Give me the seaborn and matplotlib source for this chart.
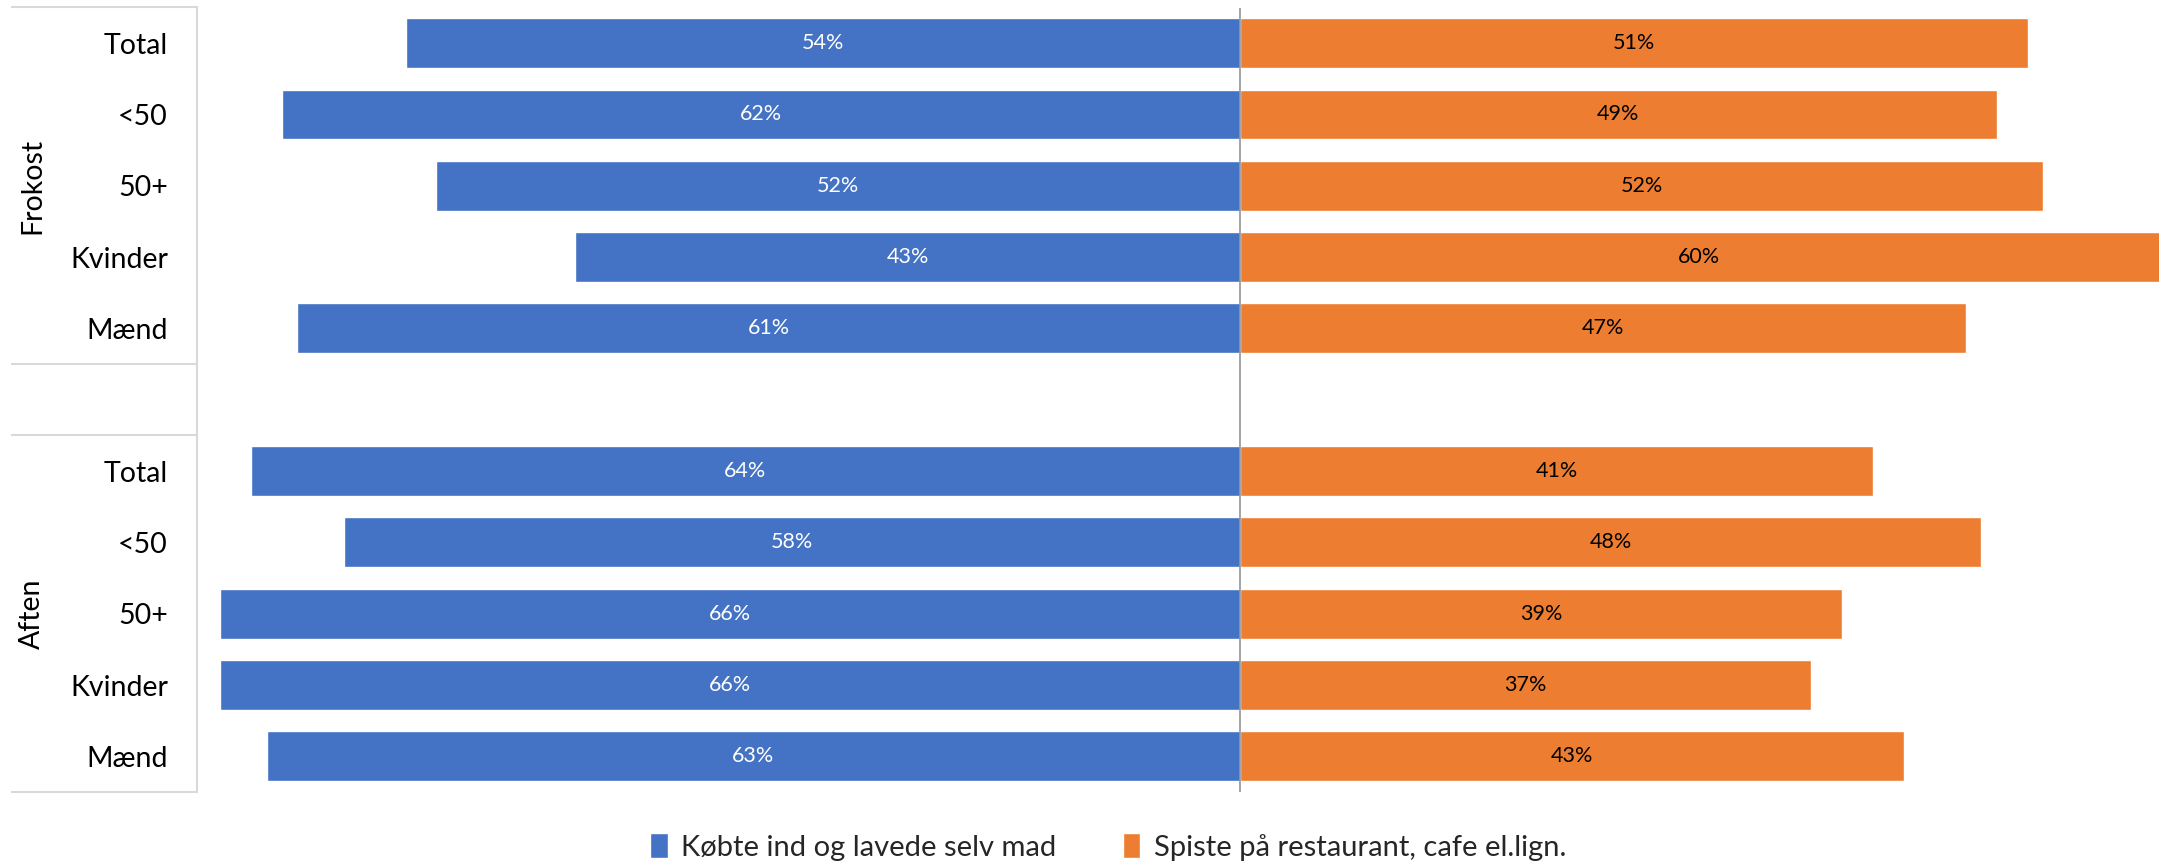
import numpy as np
import pandas as pd
import matplotlib
matplotlib.use("Agg")
import matplotlib.pyplot as plt
import matplotlib.transforms as mtransforms
import seaborn as sns

# Survey shares (%) per meal and respondent group
groups = ["Frokost", "Aften"]
segments = ["Total", "<50", "50+", "Kvinder", "Mænd"]
selv_mad = {
    "Frokost": [54, 62, 52, 43, 61],
    "Aften": [64, 58, 66, 66, 63],
}
restaurant = {
    "Frokost": [51, 49, 52, 60, 47],
    "Aften": [41, 48, 39, 37, 43],
}
series_names = ["Købte ind og lavede selv mad", "Spiste på restaurant, cafe el.lign."]
colors = ["#4472C4", "#ED7D31"]

sns.set_theme(style="white")
plt.rcParams["font.family"] = ["Lato", "DejaVu Sans"]

rows = []
for g in groups:
    for seg, a, b in zip(segments, selv_mad[g], restaurant[g]):
        key = f"{g}|{seg}"
        rows.append({"key": key, "serie": series_names[0], "value": -a, "label": a})
        rows.append({"key": key, "serie": series_names[1], "value": b, "label": b})
df = pd.DataFrame(rows)

# category order with an empty slot between the two meals
order = [f"Frokost|{s}" for s in segments] + ["__gap__"] + [f"Aften|{s}" for s in segments]

W, H = 2159, 865
fig = plt.figure(figsize=(W / 100, H / 100), dpi=100)
ax_left, ax_right = 197 / W, 1.0
ax_top, ax_bot = 1 - 7.5 / H, 1 - 792 / H
ax = fig.add_axes([ax_left, ax_bot, ax_right - ax_left, ax_top - ax_bot])

sns.barplot(
    data=df, x="value", y="key", hue="serie", order=order,
    hue_order=series_names, palette=colors, dodge=False, width=0.7,
    orient="h", ax=ax, saturation=1, legend=True,
)

ax.set_xlim(-67.5, 59.5)
ax.set_ylim(10.5, -0.5)
ax.set_xlabel("")
ax.set_ylabel("")
ax.set_xticks([])

tick_labels = [k.split("|")[1] if "|" in k else "" for k in order]
ax.set_yticks(range(len(order)))
ax.set_yticklabels(tick_labels, fontsize=20.5, color="black")
ax.tick_params(axis="y", length=0, pad=21)

for side in ["top", "right", "bottom"]:
    ax.spines[side].set_visible(False)
ax.spines["left"].set_color("#d9d9d9")
ax.spines["left"].set_linewidth(1.5)

# zero line
ax.axvline(0, color="#8c8c8c", lw=1.1, zorder=3)

# value labels
for cont, txtcol in zip(ax.containers, ["white", "black"]):
    labels = [f"{abs(v):.0f}%" for v in cont.datavalues]
    ax.bar_label(cont, labels=labels, label_type="center", color=txtcol, fontsize=15.5)

# category table lines and meal labels to the left of the axis
trans = mtransforms.blended_transform_factory(ax.transAxes, ax.transData)
x0 = (11 - 197) / (W - 197)
for yline in [-0.5, 4.5, 5.5, 10.5]:
    ax.plot([x0, 0], [yline, yline], transform=trans, color="#d9d9d9", lw=1.5,
            clip_on=False, solid_capstyle="butt")

gx = (32 - 197) / (W - 197)
for g, yc in zip(groups, [2, 8]):
    ax.text(gx, yc, g, transform=trans, rotation=90, ha="center", va="center",
            fontsize=20.5, color="black")

# legend below the chart
handles, labels = ax.get_legend_handles_labels()
ax.get_legend().remove()
fig.legend(handles, labels, loc="center", bbox_to_anchor=(1108 / W, 1 - 847 / H),
           ncol=2, frameon=False, fontsize=21, handlelength=0.6, handleheight=0.9,
           handletextpad=0.45, columnspacing=2.3)

fig.savefig("out.png", dpi=100)
